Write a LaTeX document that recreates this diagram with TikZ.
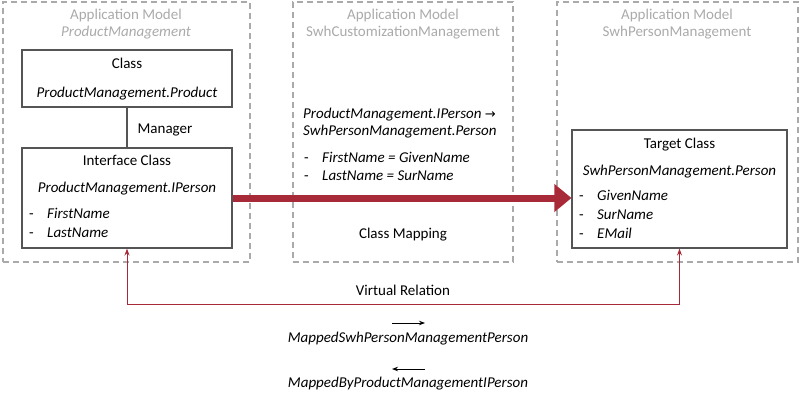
\documentclass[tikz,border=0pt]{standalone}
\usepackage{fontspec}
\setmainfont{Carlito}
\newfontfamily\arrowfont{DejaVu Sans}
\usetikzlibrary{arrows.meta}

\definecolor{relred}{RGB}{168,42,56}
\definecolor{modelgray}{RGB}{170,170,170}
\definecolor{boxgray}{RGB}{85,85,85}

\tikzset{
	model/.style={draw=modelgray, line width=1.1pt, dash pattern=on 6pt off 4pt},
	classbox/.style={draw=boxgray, line width=1.1pt, inner sep=0pt},
	txt/.style={inner sep=0pt, text height=13pt, text depth=1.5pt, font=\fontsize{15}{18}\selectfont},
	ittxt/.style={txt, font=\fontsize{15}{18}\selectfont\itshape},
	modeltitle/.style={txt, text=modelgray},
	modelname/.style={ittxt, text=modelgray}
}

\begin{document}
\begin{tikzpicture}[x=1pt, y=-1pt]
	\useasboundingbox (0,0) rectangle (800,401);
	
	%MODELS
	\node[model, minimum width=247pt, minimum height=260pt] (pmodel) at (126.5,132) {};
	\node[model, minimum width=220pt, minimum height=260pt] (cmodel) at (403,132) {};
	\node[model, minimum width=241pt, minimum height=260pt] (smodel) at (677.5,132) {};
	
	\node[modeltitle] (pt1) at (126,14) {Application Model};
	\node[modelname] (pt2) at (126,31) {ProductManagement};
	\node[modeltitle] (ct1) at (403,14) {Application Model};
	\node[modeltitle] (ct2) at (403,31) {SwhCustomizationManagement};
	\node[modeltitle] (st1) at (677,14) {Application Model};
	\node[modeltitle] (st2) at (677,31) {SwhPersonManagement};
	
	%CLASS
	\node[classbox, minimum width=210pt, minimum height=57pt] (cls) at (127,78.5) {};
	\node[txt] (clst) at (127,63) {Class};
	\node[ittxt] (clsn) at (127,92) {ProductManagement.Product};
	
	%INTERFACE CLASS
	\node[classbox, minimum width=210pt, minimum height=100pt] (iface) at (127,198) {};
	\node[txt] (ifacet) at (127,160) {Interface Class};
	\node[ittxt] (ifacen) at (127,187) {ProductManagement.IPerson};
	\foreach \y/\n [count=\i] in {213/FirstName, 232/LastName} {
		\node[txt, anchor=west] (idash\i) at (29,\y) {-};
		\node[ittxt, anchor=west] (iattr\i) at (47,\y) {\n};
	}
	
	\draw[boxgray, line width=1.1pt] (cls.south) -- (iface.north);
	\node[txt] (mgr) at (165,128) {Manager};
	
	%TARGET CLASS
	\node[classbox, minimum width=215pt, minimum height=118pt] (target) at (679.5,189) {};
	\node[txt] (targett) at (679.5,143) {Target Class};
	\node[ittxt] (targetn) at (679.5,170) {SwhPersonManagement.Person};
	\foreach \y/\n [count=\i] in {195/GivenName, 214/SurName, 233/EMail} {
		\node[txt, anchor=west] (tdash\i) at (579,\y) {-};
		\node[ittxt, anchor=west] (tattr\i) at (597,\y) {\n};
	}
	
	%MAPPING
	\node[ittxt, anchor=west] (map1) at (303,113) {ProductManagement.IPerson {\upshape\arrowfont\fontsize{13}{15}\selectfont →}};
	\node[ittxt, anchor=west] (map2) at (303,130) {SwhPersonManagement.Person};
	\foreach \y/\n [count=\i] in {157/FirstName = GivenName, 175/LastName = SurName} {
		\node[txt, anchor=west] (mdash\i) at (304,\y) {-};
		\node[ittxt, anchor=west] (mattr\i) at (322,\y) {\n};
	}
	\node[txt] (cmap) at (403,233) {Class Mapping};
	
	\draw[relred, line width=7pt, -{Triangle[width=27pt, length=17pt]}] (iface.east) -- (target.west |- iface.east);
	
	%VIRTUAL RELATION
	\draw[relred, line width=1pt, {Stealth[length=7pt, width=5pt]}-{Stealth[length=7pt, width=5pt]}] (iface.south) -- ++(0,56) -| (target.south);
	\node[txt] (vrel) at (403,290) {Virtual Relation};
	
	\node[ittxt] (fwd) at (408,337) {MappedSwhPersonManagementPerson};
	\node[ittxt] (bwd) at (408,382) {MappedByProductManagementIPerson};
	\coordinate (fwda) at (392,323);
	\coordinate (fwdb) at (425,323);
	\coordinate (bwda) at (392,369);
	\coordinate (bwdb) at (425,369);
	\draw[line width=0.9pt, -{Stealth[length=6pt, width=4.5pt]}] (fwda) -- (fwdb);
	\draw[line width=0.9pt, -{Stealth[length=6pt, width=4.5pt]}] (bwdb) -- (bwda);
\end{tikzpicture}
\end{document}
